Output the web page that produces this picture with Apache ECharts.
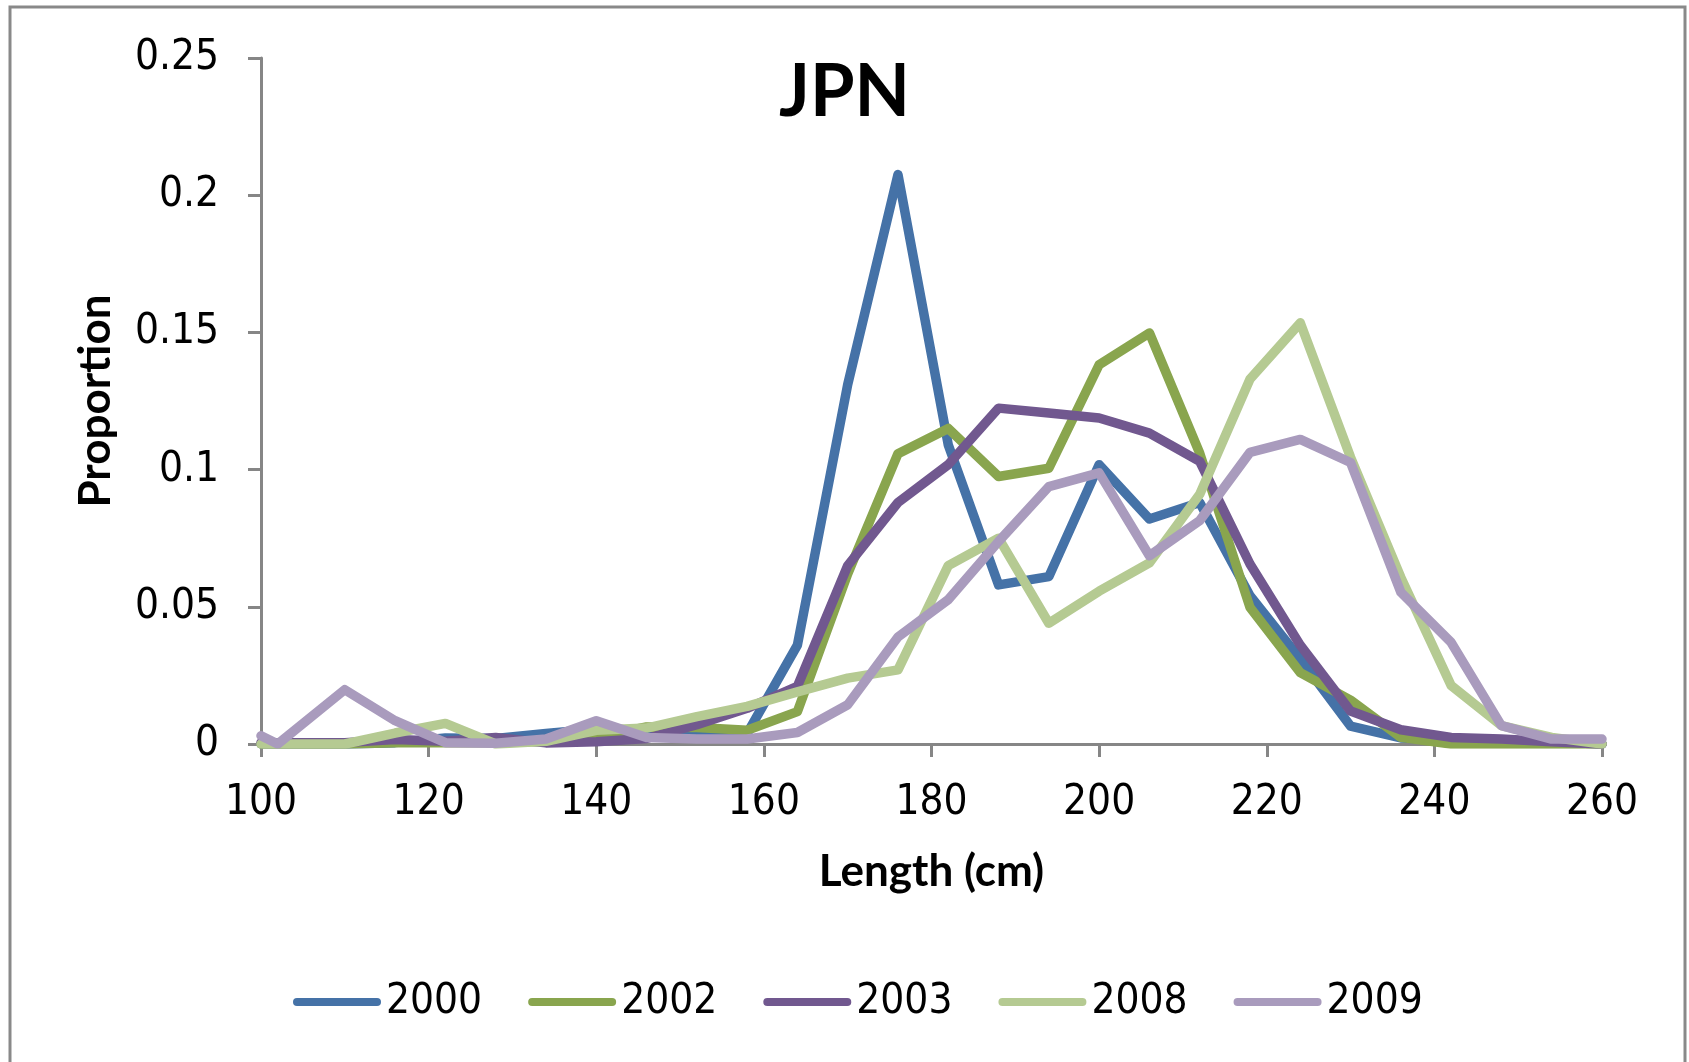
<!DOCTYPE html>
<html>
<head>
<meta charset="utf-8">
<script src="https://cdn.jsdelivr.net/npm/echarts@6/dist/echarts.min.js"></script>
<style>
html,body{margin:0;padding:0;background:#fff;}
#chart{width:1689px;height:1062px;}
</style>
</head>
<body>
<div id="chart"></div>
<script>
// Length classes (cm)
var lengths = [100, 102, 110, 116, 122, 128, 134, 140, 146, 152, 158, 164, 170, 176, 182, 188, 194, 200, 206, 212, 218, 224, 230, 236, 242, 248, 254, 260];
var seriesNames = ['2000', '2002', '2003', '2008', '2009'];
var p2000 = [0, 0, 0, 0.0005, 0.0022, 0.002, 0.0038, 0.0055, 0.0036, 0.0036, 0.0038, 0.036, 0.131, 0.2075, 0.109, 0.058, 0.061, 0.1018, 0.082, 0.088, 0.054, 0.031, 0.0065, 0.0022, 0.0015, 0.0012, 0.0008, 0];
var p2002 = [0, 0, 0, 0.0005, 0.0005, 0.0005, 0.001, 0.0025, 0.0062, 0.006, 0.005, 0.0118, 0.062, 0.1058, 0.115, 0.0975, 0.1005, 0.1382, 0.1498, 0.106, 0.0498, 0.026, 0.016, 0.0024, 0, 0, 0, 0];
var p2003 = [0.0005, 0.0005, 0.0005, 0.0016, 0.001, 0.0024, 0.0004, 0.0008, 0.002, 0.007, 0.013, 0.021, 0.065, 0.088, 0.1018, 0.1224, 0.1206, 0.1188, 0.1133, 0.103, 0.0656, 0.036, 0.012, 0.0052, 0.0024, 0.0018, 0.0008, 0];
var p2008 = [0, 0, 0, 0.004, 0.0075, 0, 0.001, 0.005, 0.0058, 0.010, 0.0137, 0.019, 0.024, 0.027, 0.065, 0.075, 0.044, 0.0557, 0.066, 0.091, 0.133, 0.1535, 0.1045, 0.0607, 0.0213, 0.0067, 0.0024, 0];
var p2009 = [0.003, 0, 0.0198, 0.0085, 0.0005, 0.0003, 0.0018, 0.0085, 0.0024, 0.0018, 0.0018, 0.0042, 0.0143, 0.039, 0.0526, 0.0738, 0.0938, 0.0988, 0.0686, 0.0814, 0.1063, 0.111, 0.1026, 0.0553, 0.037, 0.0067, 0.0018, 0.0018];
var yTickLabels = ['0', '0.05', '0.1', '0.15', '0.2', '0.25'];
var xTickLabels = ['100', '120', '140', '160', '180', '200', '220', '240', '260'];

var colors = ['#4572A7', '#89A54E', '#71588F', '#B5CA92', '#A99BBD'];
var values = [p2000, p2002, p2003, p2008, p2009];

function pairs(arr) {
  return lengths.map(function (x, i) { return [x, arr[i]]; });
}

var tickFont = '"Liberation Sans Narrow", "DejaVu Sans Condensed", sans-serif';
var boldFont = 'Lato, "Open Sans", sans-serif';
var axisGray = '#868686';

var chart = echarts.init(document.getElementById('chart'), null, {renderer: 'canvas'});
var option = {
  animation: false,
  backgroundColor: '#ffffff',
  color: colors,
  title: {
    text: 'JPN',
    left: 'center',
    top: 57,
    padding: 0,
    textStyle: {fontFamily: boldFont, fontWeight: 'bold', fontSize: 72, color: '#000'}
  },
  graphic: [{
    type: 'rect',
    shape: {x: 10, y: 7, width: 1675, height: 1070},
    style: {fill: 'none', stroke: '#898989', lineWidth: 3},
    silent: true
  }],
  legend: {
    left: 288,
    top: 976,
    itemWidth: 88,
    itemHeight: 8,
    itemGap: 46,
    icon: 'path://M4,0 L84,0 A4,4 0 0 1 84,8 L4,8 A4,4 0 0 1 4,0 Z',
    textStyle: {fontFamily: tickFont, fontSize: 42, color: '#000'},
    data: seriesNames
  },
  grid: {left: 261, top: 58, right: 87, bottom: 318, containLabel: false},
  xAxis: {
    type: 'value',
    min: 100, max: 260, interval: 20,
    name: 'Length (cm)',
    nameLocation: 'middle',
    nameGap: 106,
    nameTextStyle: {fontFamily: boldFont, fontWeight: 'bold', fontSize: 44, color: '#000'},
    axisLine: {show: true, lineStyle: {color: axisGray, width: 3}},
    axisTick: {show: true, length: 13, lineStyle: {color: axisGray, width: 3}},
    splitLine: {show: false},
    axisLabel: {
      margin: 38,
      fontFamily: tickFont, fontSize: 42, color: '#000',
      formatter: function (v) { var i = Math.round((v - 100) / 20); return xTickLabels[i] || ''; }
    }
  },
  yAxis: {
    type: 'value',
    min: 0, max: 0.25, interval: 0.05,
    name: 'Proportion',
    nameLocation: 'middle',
    nameGap: 143,
    nameRotate: 90,
    nameTextStyle: {fontFamily: boldFont, fontWeight: 'bold', fontSize: 44, color: '#000'},
    axisLine: {show: true, lineStyle: {color: axisGray, width: 3}},
    axisTick: {show: true, length: 13, lineStyle: {color: axisGray, width: 3}},
    splitLine: {show: false},
    axisLabel: {
      margin: 42,
      fontFamily: tickFont, fontSize: 42, color: '#000',
      formatter: function (v) { var i = Math.round(v / 0.05); return yTickLabels[i] || ''; }
    }
  },
  series: seriesNames.map(function (name, k) {
    return {
      name: name,
      type: 'line',
      data: pairs(values[k]),
      showSymbol: false,
      symbol: 'none',
      lineStyle: {width: 9.5, color: colors[k], cap: 'round', join: 'round'},
      itemStyle: {color: colors[k]},
      z: 2 + k
    };
  })
};
chart.setOption(option);
</script>
</body>
</html>
